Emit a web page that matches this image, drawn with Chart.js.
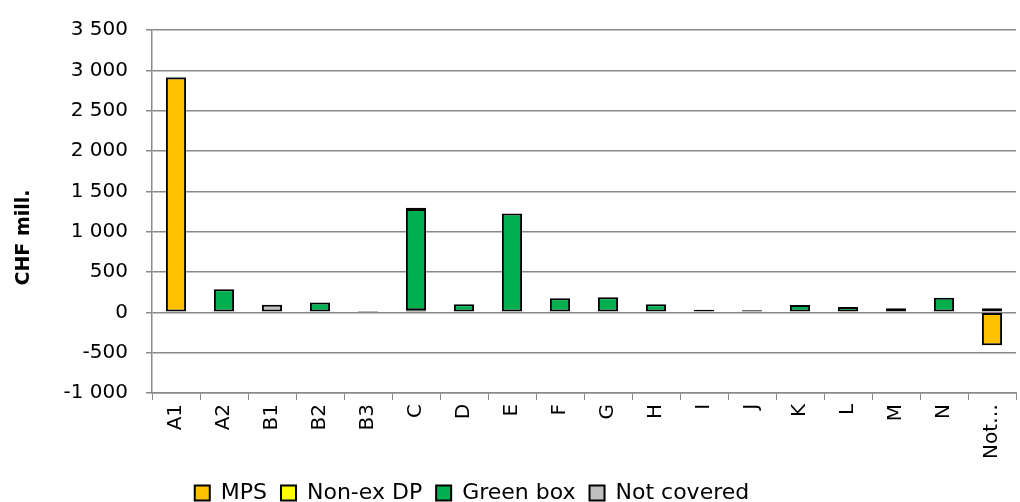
<!DOCTYPE html>
<html>
<head>
<meta charset="utf-8">
<script src="https://cdn.jsdelivr.net/npm/chart.js@4/dist/chart.umd.min.js"></script>
<style>
  html, body { margin: 0; padding: 0; background: #fff; }
  #wrap { width: 1020px; height: 502px; }
</style>
</head>
<body>
<div id="wrap"><canvas id="chart"></canvas></div>
<script>
const categories = ['A1', 'A2', 'B1', 'B2', 'B3', 'C', 'D', 'E', 'F', 'G', 'H', 'I', 'J', 'K', 'L', 'M', 'N', 'Not…'];
const mps =        [2910, null, null, null, null, 25, null, null, null, null, null, null, null, null, null, null, null, -410];
const nonExDp =    [null, null, null, null, null, null, null, null, null, null, null, null, null, null, null, null, null, 50];
const greenBox =   [null, 285, null, 120, null, 1255, 100, 1225, 173, 186, 100, 32, 26, 90, 65, null, 180, null];
const notCovered = [10, null, 95, null, 16, 15, null, null, null, null, null, null, null, null, null, 50, null, null];
const yTitle = 'CHF mill.';

const gridGrey = '#8a8a8a';
const font = 'DejaVu Sans';

function fmt(v) {
    const s = Math.abs(v).toString().replace(/\B(?=(\d{3})+(?!\d))/g, ' ');
    return (v < 0 ? '-' : '') + s;
}

function bars(label, data, color) {
    return {
        label: label,
        data: data,
        backgroundColor: color,
        borderColor: '#000',
        borderWidth: 2,
        borderSkipped: false,
        barPercentage: 0.42,
        categoryPercentage: 1
    };
}

// axis title sits a bit below the middle, like in the original sheet
const axisTitle = {
    id: 'axisTitle',
    afterDraw(chart) {
        const { ctx, chartArea } = chart;
        ctx.save();
        ctx.translate(24, (chartArea.top + chartArea.bottom) / 2 + 26);
        ctx.rotate(-Math.PI / 2);
        ctx.fillStyle = '#000';
        ctx.font = 'bold 19px "' + font + '"';
        ctx.textAlign = 'center';
        ctx.textBaseline = 'middle';
        ctx.fillText(yTitle, 0, 0);
        ctx.restore();
    }
};

// legend in the sheet is centred a little left of the page middle
const legendShift = {
    id: 'legendShift',
    afterLayout(chart) {
        if (chart.legend) chart.legend.right -= 84;
    }
};

new Chart(document.getElementById('chart'), {
    type: 'bar',
    data: {
        labels: categories,
        datasets: [
            bars('MPS', mps, '#FFC000'),
            bars('Non-ex DP', nonExDp, '#FFFF00'),
            bars('Green box', greenBox, '#00B050'),
            bars('Not covered', notCovered, '#BFBFBF')
        ]
    },
    plugins: [axisTitle, legendShift],
    options: {
        responsive: true,
        maintainAspectRatio: false,
        animation: false,
        layout: { padding: { top: 18, left: 8, right: 0, bottom: -12 } },
        plugins: {
            tooltip: { enabled: false },
            legend: {
                position: 'bottom',
                labels: {
                    boxWidth: 15,
                    boxHeight: 15,
                    padding: 14,
                    color: '#000',
                    font: { family: font, size: 22 }
                }
            }
        },
        scales: {
            x: {
                stacked: true,
                afterFit: (scale) => { scale.height += 5; },
                grid: {
                    drawOnChartArea: false,
                    color: gridGrey,
                    tickLength: 7
                },
                border: { color: gridGrey, width: 1.5 },
                ticks: {
                    color: '#000',
                    font: { family: font, size: 20 },
                    maxRotation: 90,
                    minRotation: 90,
                    autoSkip: false,
                    padding: 4
                }
            },
            y: {
                stacked: true,
                min: -1000,
                max: 3500,
                afterFit: (scale) => { scale.width = 144; },
                border: { color: gridGrey, width: 1.5 },
                grid: {
                    color: (ctx) => (ctx.tick && ctx.tick.value % 500 === 0 ? gridGrey : 'rgba(0,0,0,0)'),
                    tickColor: gridGrey,
                    tickLength: 6,
                    lineWidth: 1.5
                },
                ticks: {
                    stepSize: 250,
                    color: '#000',
                    padding: 18,
                    font: { family: font, size: 20 },
                    callback: (v) => (v % 500 === 0 ? fmt(v) : '')
                }
            }
        }
    }
});
</script>
</body>
</html>
